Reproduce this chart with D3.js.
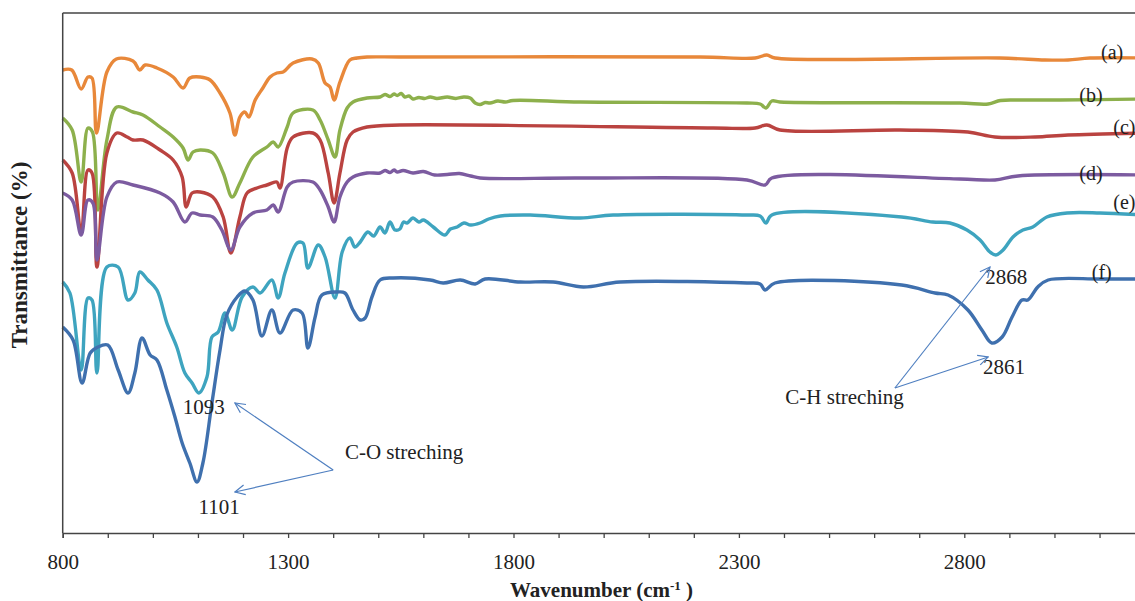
<!DOCTYPE html>
<html>
<head>
<meta charset="utf-8">
<script src="https://cdn.jsdelivr.net/npm/d3@7"></script>
<style>
  body { margin: 0; background: #fff; }
  svg text { font-family: "Liberation Serif", "Times New Roman", serif; fill: #222; }
</style>
</head>
<body>
<svg id="chart" width="1135" height="601"></svg>
<script>
// spectra: [wavenumber, transmittance (arb. %)]
var seriesA = [[800,92.6],[820,92.6],[841,88.8],[856,91.2],[865,91.0],[875,80.0],[898,92.2],[919,94.8],[956,94.4],[971,92.6],[983,93.6],[1009,93.0],[1045,91.2],[1067,89.0],[1082,91.0],[1105,91.2],[1127,90.6],[1149,88.0],[1171,84.0],[1182,79.6],[1193,83.2],[1204,84.2],[1213,83.2],[1227,86.6],[1244,89.0],[1260,91.2],[1275,92.0],[1289,92.2],[1311,94.0],[1353,94.8],[1367,94.0],[1382,90.0],[1393,89.2],[1402,86.6],[1415,90.2],[1437,94.6],[1453,95.0],[1475,95.2],[1548,95.2],[2214,95.2],[2336,95.0],[2362,95.6],[2380,95.0],[2879,95.0],[2979,94.6],[3030,94.6],[3079,95.0],[3200,95.0]];
var seriesB = [[800,83.0],[821,80.6],[841,70.2],[856,81.0],[866,80.2],[878,64.6],[898,78.6],[920,85.2],[956,84.2],[978,83.6],[1016,81.2],[1045,79.2],[1067,77.0],[1078,74.6],[1089,76.2],[1105,76.6],[1133,76.0],[1156,72.0],[1176,67.2],[1193,70.0],[1222,75.2],[1253,77.2],[1267,78.2],[1278,77.2],[1298,81.2],[1311,84.0],[1355,84.6],[1371,82.6],[1389,78.6],[1404,75.2],[1415,80.6],[1431,85.0],[1444,86.2],[1475,87.0],[1504,87.2],[1515,87.7],[1526,87.3],[1535,87.8],[1542,87.5],[1551,87.9],[1559,87.2],[1568,87.4],[1577,86.8],[1590,87.1],[1603,86.9],[1615,87.2],[1630,86.9],[1653,87.2],[1672,86.9],[1690,87.2],[1704,87.0],[1715,86.0],[1726,85.7],[1737,86.1],[1748,86.0],[1765,86.4],[1782,86.2],[1799,86.5],[1948,86.2],[2318,86.0],[2347,85.8],[2360,85.0],[2373,86.4],[2391,86.2],[2790,86.0],[2853,85.8],[2880,86.5],[2919,86.6],[3013,86.6],[3200,86.8]];
var seriesC = [[800,74.6],[821,72.0],[841,60.0],[856,72.6],[865,72.0],[876,53.2],[898,76.0],[920,80.0],[943,79.2],[956,78.6],[978,78.6],[1016,76.6],[1045,74.6],[1065,71.2],[1074,65.2],[1087,68.0],[1105,68.2],[1133,67.2],[1156,63.2],[1173,56.0],[1193,63.2],[1209,68.0],[1231,69.0],[1253,69.6],[1275,70.2],[1282,69.0],[1298,77.0],[1311,79.2],[1355,80.0],[1371,78.6],[1389,72.0],[1402,66.0],[1415,72.0],[1431,78.6],[1444,80.2],[1475,81.2],[1548,81.6],[2243,81.0],[2336,81.0],[2362,81.6],[2391,80.6],[2657,80.6],[2808,80.2],[2868,79.2],[2957,79.2],[3030,79.6],[3200,80.0]];
var seriesD = [[800,68.0],[821,66.6],[841,59.6],[856,66.6],[867,66.0],[876,54.6],[898,67.2],[920,70.2],[956,69.6],[1016,68.0],[1045,66.2],[1071,62.2],[1087,64.0],[1105,63.6],[1133,63.2],[1153,60.6],[1173,56.6],[1193,61.2],[1222,64.0],[1253,64.6],[1267,65.6],[1278,64.2],[1298,69.2],[1311,70.2],[1355,70.2],[1371,68.6],[1389,65.2],[1402,62.2],[1415,67.2],[1431,70.2],[1444,71.2],[1475,72.0],[1504,72.0],[1515,72.5],[1526,72.1],[1535,72.6],[1542,72.2],[1555,72.5],[1577,72.0],[1600,72.3],[1625,71.6],[1653,71.7],[1680,71.9],[1705,71.4],[1726,71.0],[1948,71.0],[2318,70.6],[2358,69.6],[2373,71.0],[2790,70.8],[2868,70.6],[2919,71.4],[3200,71.6]];
var seriesE = [[800,50.2],[816,48.0],[841,32.6],[856,47.0],[865,46.6],[876,32.0],[898,53.2],[923,53.2],[945,46.6],[960,48.0],[971,52.2],[989,50.6],[1009,48.6],[1031,42.0],[1053,37.2],[1071,32.0],[1087,30.0],[1102,28.0],[1120,31.2],[1131,39.2],[1145,40.2],[1160,44.0],[1176,40.6],[1198,47.2],[1222,49.2],[1238,48.0],[1264,50.6],[1278,47.0],[1293,52.0],[1320,58.0],[1333,58.0],[1344,53.0],[1367,57.6],[1382,55.2],[1404,47.0],[1420,56.2],[1437,59.0],[1448,57.2],[1460,58.2],[1477,60.2],[1490,59.4],[1504,61.2],[1515,60.0],[1526,62.2],[1537,60.6],[1548,60.8],[1556,62.2],[1564,62.0],[1577,63.0],[1590,62.2],[1600,62.6],[1622,61.2],[1648,59.6],[1660,60.8],[1675,61.2],[1690,62.0],[1705,61.6],[1726,62.0],[1745,62.8],[1771,63.4],[1837,63.6],[1948,63.0],[2021,63.6],[2318,63.6],[2347,63.4],[2360,62.0],[2373,63.6],[2661,63.2],[2730,62.2],[2768,62.0],[2806,60.6],[2835,58.6],[2857,56.2],[2870,55.6],[2886,56.6],[2908,59.2],[2930,60.6],[2952,61.2],[2983,63.2],[3028,64.0],[3101,64.0],[3200,63.6]];
var seriesF = [[800,41.2],[823,38.6],[843,30.0],[861,36.0],[878,37.2],[900,37.6],[923,32.6],[945,28.0],[960,32.0],[976,39.0],[994,35.6],[1009,34.6],[1031,28.6],[1049,23.2],[1065,18.0],[1082,14.0],[1098,10.2],[1111,14.0],[1131,26.0],[1149,36.6],[1164,43.6],[1187,47.2],[1204,48.4],[1222,46.6],[1242,39.4],[1264,44.6],[1282,40.0],[1311,44.6],[1331,44.0],[1344,37.0],[1360,43.2],[1375,47.6],[1409,48.2],[1426,48.0],[1444,44.6],[1460,42.6],[1471,43.0],[1486,47.2],[1504,50.6],[1533,51.0],[1615,50.6],[1644,50.0],[1682,50.6],[1715,49.8],[1737,50.8],[1815,50.2],[1888,50.2],[1955,49.2],[2037,50.2],[2318,50.0],[2347,49.8],[2358,48.6],[2380,50.0],[2661,49.6],[2735,48.0],[2764,47.6],[2808,44.6],[2839,40.6],[2861,38.0],[2884,39.2],[2906,43.2],[2928,46.6],[2941,46.6],[2963,49.2],[2986,50.6],[3101,50.8],[3200,50.8]];

var seriesNames = ["(a)", "(b)", "(c)", "(d)", "(e)", "(f)"];
var seriesColors = ["#e8883a", "#8db04c", "#ba4340", "#7c5ba0", "#3ea4bf", "#3f70ae"];
// label anchor for each curve, [wavenumber, transmittance]
var labelAt = [[3128,96.2],[3081,87.6],[3155,81.2],[3081,72.0],[3155,66.2],[3105,52.2]];

var xTicks = d3.range(800, 3200, 100);
var peakLabels = [["1093",1113,25.2],["1101",1147,5.2],["2868",2893,51.2],["2861",2888,33.2]];
var noteLabels = [["C-O streching",1426,16.2],["C-H streching",2403,27.2]];
// arrows: from note to peak
var arrows = [[1400,12.6,1182,26.0],[1400,12.6,1182,8.2],[2646,29.0,2853,35.2],[2646,29.0,2857,53.2]];

var svg = d3.select("#chart");
var padLeft = 62.7, padTop = 13, padBottom = 533;

var x = d3.scaleLinear().domain([800, 3200]).range([padLeft, padLeft + 2400 * 0.4508]);
var y = d3.scaleLinear().domain([0, 104]).range([padBottom, padTop]);

var allSeries = [seriesA, seriesB, seriesC, seriesD, seriesE, seriesF];

var line = d3.line()
    .x(function(d){ return x(d[0]); })
    .y(function(d){ return y(d[1]); })
    .curve(d3.curveCatmullRom.alpha(0.5));

svg.append("g").selectAll("path")
    .data(allSeries)
    .enter().append("path")
    .attr("d", line)
    .attr("fill", "none")
    .attr("stroke", function(d,i){ return seriesColors[i]; })
    .attr("stroke-width", 3.4)
    .attr("stroke-linejoin", "round");

// frame
svg.append("line").attr("x1", padLeft).attr("x2", 1135).attr("y1", padTop).attr("y2", padTop)
    .attr("stroke", "#444").attr("stroke-width", 1.5);
svg.append("line").attr("x1", padLeft).attr("x2", padLeft).attr("y1", padTop).attr("y2", padBottom)
    .attr("stroke", "#444").attr("stroke-width", 1.5);

var xAxis = d3.axisBottom(x)
    .tickValues(xTicks)
    .tickSize(5)
    .tickPadding(16)
    .tickFormat(function(d){ return (d - 800) % 500 === 0 ? d : ""; });

var gx = svg.append("g").attr("transform", "translate(0," + padBottom + ")").call(xAxis);
gx.select(".domain").attr("stroke", "#444").attr("stroke-width", 1.5);
gx.selectAll(".tick line").attr("stroke", "#444").attr("stroke-width", 1.3);
gx.selectAll(".tick text")
    .style("font-family", "Liberation Serif, serif")
    .style("font-size", "21px")
    .attr("fill", "#222");

// axis titles
var xt = svg.append("text")
    .attr("x", 510).attr("y", 597)
    .style("font-size", "21px").style("font-weight", "bold");
xt.append("tspan").text("Wavenumber (cm");
xt.append("tspan").text("-1").attr("dy", -7).style("font-size", "13px");
xt.append("tspan").text(" )").attr("dy", 7);

svg.append("text")
    .attr("transform", "translate(27,255) rotate(-90)")
    .attr("text-anchor", "middle")
    .style("font-size", "23px").style("font-weight", "bold")
    .text("Transmittance (%)");

// curve labels
svg.append("g").selectAll("text")
    .data(labelAt)
    .enter().append("text")
    .attr("x", function(d){ return x(d[0]); })
    .attr("y", function(d){ return y(d[1]); })
    .attr("dy", "0.35em")
    .attr("text-anchor", "middle")
    .style("font-size", "20px")
    .text(function(d,i){ return seriesNames[i]; });

svg.append("g").selectAll("text")
    .data(peakLabels)
    .enter().append("text")
    .attr("x", function(d){ return x(d[1]); })
    .attr("y", function(d){ return y(d[2]); })
    .attr("dy", "0.35em")
    .attr("text-anchor", "middle")
    .style("font-size", "21px")
    .text(function(d){ return d[0]; });

svg.append("g").selectAll("text")
    .data(noteLabels)
    .enter().append("text")
    .attr("x", function(d){ return x(d[1]); })
    .attr("y", function(d){ return y(d[2]); })
    .attr("dy", "0.35em")
    .style("font-size", "21px")
    .text(function(d){ return d[0]; });

svg.append("defs").append("marker")
    .attr("id", "head")
    .attr("viewBox", "0 0 12 12")
    .attr("refX", 11).attr("refY", 6)
    .attr("markerWidth", 12).attr("markerHeight", 12)
    .attr("markerUnits", "userSpaceOnUse")
    .attr("orient", "auto")
    .append("path")
    .attr("d", "M1,1 L11,6 L1,11")
    .attr("fill", "none")
    .attr("stroke", "#4f7fc0")
    .attr("stroke-width", 1.2);

svg.append("g").selectAll("line")
    .data(arrows)
    .enter().append("line")
    .attr("x1", function(d){ return x(d[0]); })
    .attr("y1", function(d){ return y(d[1]); })
    .attr("x2", function(d){ return x(d[2]); })
    .attr("y2", function(d){ return y(d[3]); })
    .attr("stroke", "#4f7fc0")
    .attr("stroke-width", 1.2)
    .attr("marker-end", "url(#head)");
</script>
</body>
</html>
